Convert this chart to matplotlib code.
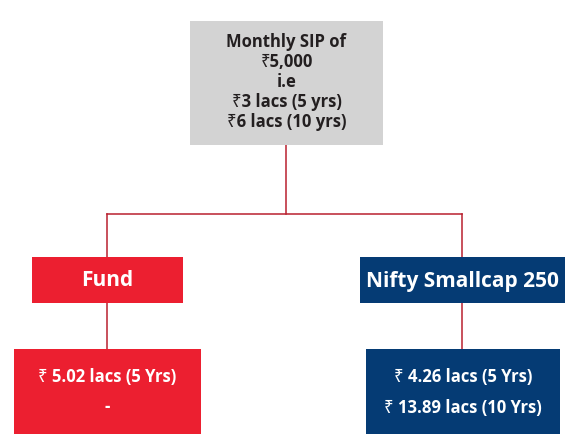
import matplotlib
matplotlib.use("Agg")
import matplotlib.pyplot as plt
from matplotlib.patches import Rectangle

# ---- content ----
top_lines = ["Monthly SIP of", "₹5,000", "i.e", "₹3 lacs (5 yrs)", "₹6 lacs (10 yrs)"]
branch_names = ["Fund", "Nifty Smallcap 250"]
branch_values = [["₹ 5.02 lacs (5 Yrs)", "-"],
                 ["₹ 4.26 lacs (5 Yrs)", "₹ 13.89 lacs (10 Yrs)"]]

# ---- style ----
RED = "#EC1F30"
NAVY = "#053B74"
GREY = "#D3D3D3"
LINE = "#B9212F"
TXT = "#231F20"
FONT = ["Open Sans", "Noto Sans", "DejaVu Sans"]

W, H = 574, 438
fig = plt.figure(figsize=(W / 100, H / 100), dpi=100)
ax = fig.add_axes([0, 0, 1, 1])
ax.set_xlim(0, W)
ax.set_ylim(H, 0)
ax.axis("off")

# layout (pixel boxes: x0, y0, x1, y1)
top_box = (190, 21, 383, 145)
name_boxes = [(32, 257, 183, 303), (360, 257, 565, 303)]
value_boxes = [(14, 349, 201, 434), (366, 349, 560, 434)]
colors = [RED, NAVY]
cx_top = 286
bar_y = 214
branch_x = [107, 462]


def box(b, fc):
    ax.add_patch(Rectangle((b[0], b[1]), b[2] - b[0], b[3] - b[1],
                           facecolor=fc, edgecolor="none", zorder=2))


# connector lines
lw = 1.1
ax.plot([cx_top, cx_top], [top_box[3], bar_y], color=LINE, lw=lw, zorder=1)
ax.plot([branch_x[0], branch_x[1]], [bar_y, bar_y], color=LINE, lw=lw, zorder=1)
for bx, nb, vb in zip(branch_x, name_boxes, value_boxes):
    ax.plot([bx, bx], [bar_y, nb[1]], color=LINE, lw=lw, zorder=1)
    ax.plot([bx, bx], [nb[3], vb[1]], color=LINE, lw=lw, zorder=1)

# top box
box(top_box, GREY)
tcx = (top_box[0] + top_box[2]) / 2
for i, t in enumerate(top_lines):
    ax.text(tcx, 42 + i * 20, t, ha="center", va="center", fontsize=12,
            fontweight="bold", color=TXT, family=FONT, zorder=3)

# branch name boxes
for nb, name, c in zip(name_boxes, branch_names, colors):
    box(nb, c)
    ax.text((nb[0] + nb[2]) / 2, (nb[1] + nb[3]) / 2 + 1, name, ha="center",
            va="center", fontsize=15, fontweight="bold", color="white",
            family=FONT, zorder=3)

# value boxes
for vb, vals, c in zip(value_boxes, branch_values, colors):
    box(vb, c)
    vcx = (vb[0] + vb[2]) / 2
    for j, v in enumerate(vals):
        ax.text(vcx, 377 + j * 30.5, v, ha="center", va="center", fontsize=12,
                fontweight="bold", color="white", family=FONT, zorder=3)

fig.savefig("out.png", dpi=100, facecolor="white")
